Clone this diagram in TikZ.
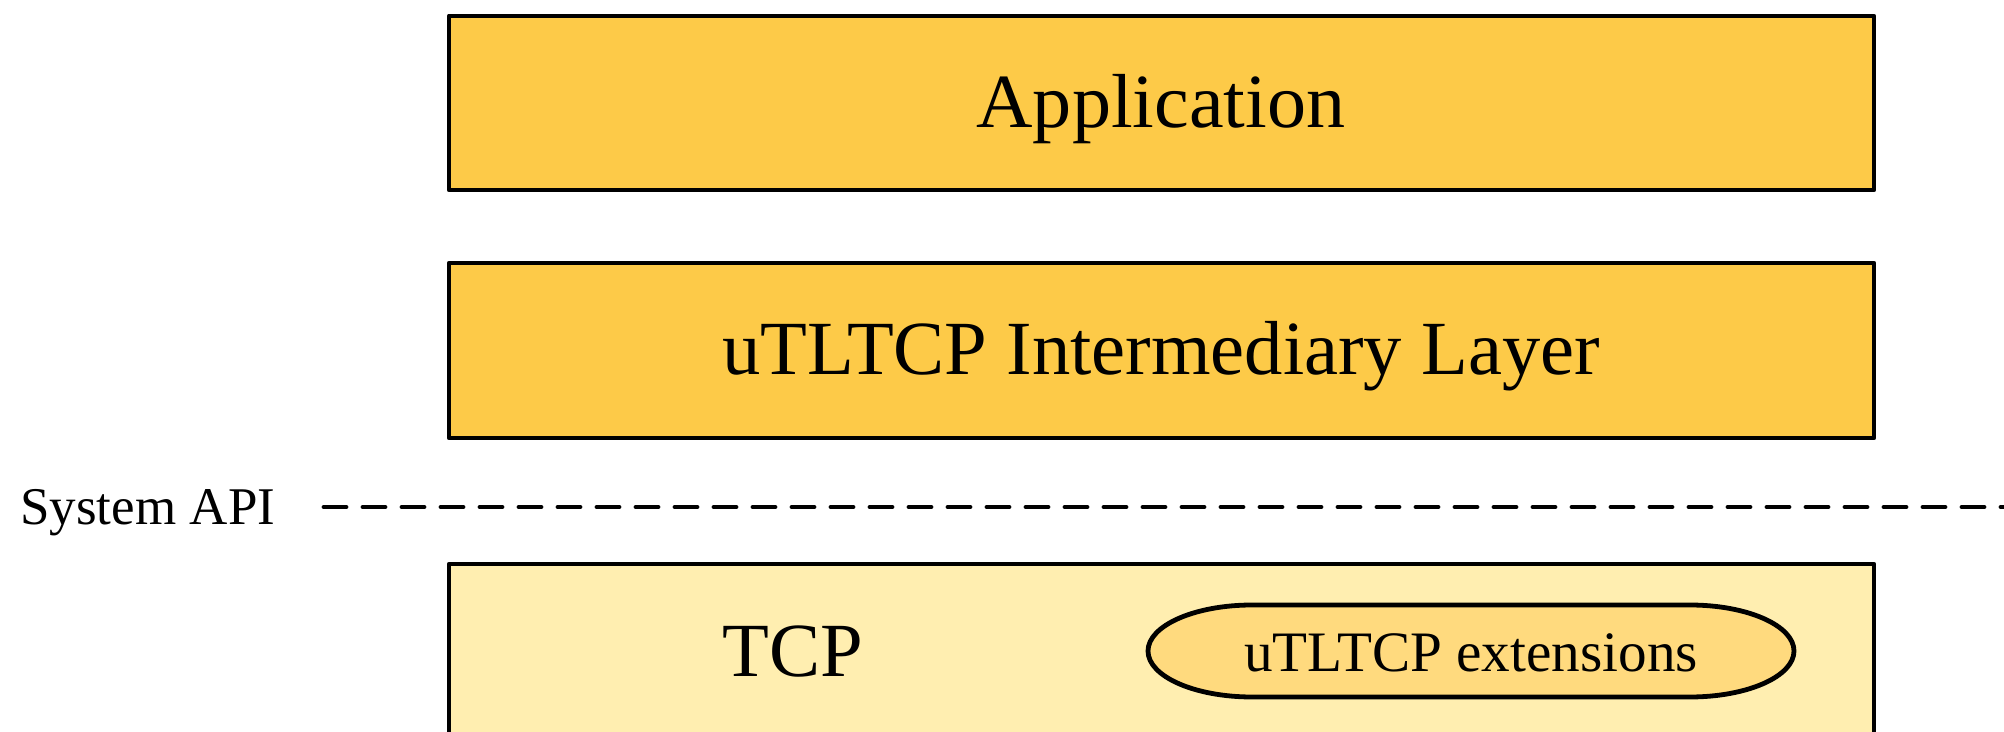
\documentclass[tikz,border=0pt]{standalone}
\usepackage{fontspec}
\setmainfont{Liberation Serif}
\usepackage{graphicx}
\definecolor{layerfill}{HTML}{FDCA48}
\definecolor{tcpfill}{HTML}{FFEEB0}
\definecolor{extfill}{HTML}{FFDA7E}
\begin{document}
\begin{tikzpicture}[x=0.5pt,y=-0.5pt,
  layerbox/.style={draw=black,line width=2.4pt,line join=round},
  bigtext/.style={anchor=base,inner sep=0pt,font=\fontsize{38.3pt}{40pt}\selectfont},
  exttext/.style={anchor=base,inner sep=0pt,font=\fontsize{28.6pt}{30pt}\selectfont},
  apitext/.style={anchor=base west,inner sep=0pt,font=\fontsize{26.5pt}{28pt}\selectfont},
  apiline/.style={line width=2.4pt,line cap=round,dash pattern=on 11pt off 8.5pt}]
\useasboundingbox (0,0) rectangle (2004,732);
\clip (0,0) rectangle (2004,732);
% boxes
\filldraw[layerbox,fill=layerfill] (449,16) rectangle (1874,190);
\filldraw[layerbox,fill=layerfill] (449,263) rectangle (1874,438);
\filldraw[layerbox,fill=tcpfill] (449,564) rectangle (1874,780);
% extension capsule
\filldraw[line width=2.4pt,fill=extfill] (1252,605) -- (1690,605)
  arc[start angle=-90,end angle=90,x radius=104,y radius=46]
  -- (1252,697)
  arc[start angle=90,end angle=270,x radius=104,y radius=46] -- cycle;
% texts
\node[bigtext] (app) at (1161,128) {\scalebox{1.02}[1]{Application}};
\node[bigtext] (mid) at (1161,375) {uTLTCP Intermediary Layer};
\node[bigtext,anchor=base west] (tcp) at (722,676) {TCP};
\node[exttext] (ext) at (1471,671) {uTLTCP extensions};
\node[apitext] (api) at (20,525) {System API};
% dashed API line
\coordinate (lineL) at (324,507);
\coordinate (lineR) at (2010,507);
\draw[apiline] (lineL) -- (lineR);
\end{tikzpicture}
\end{document}
